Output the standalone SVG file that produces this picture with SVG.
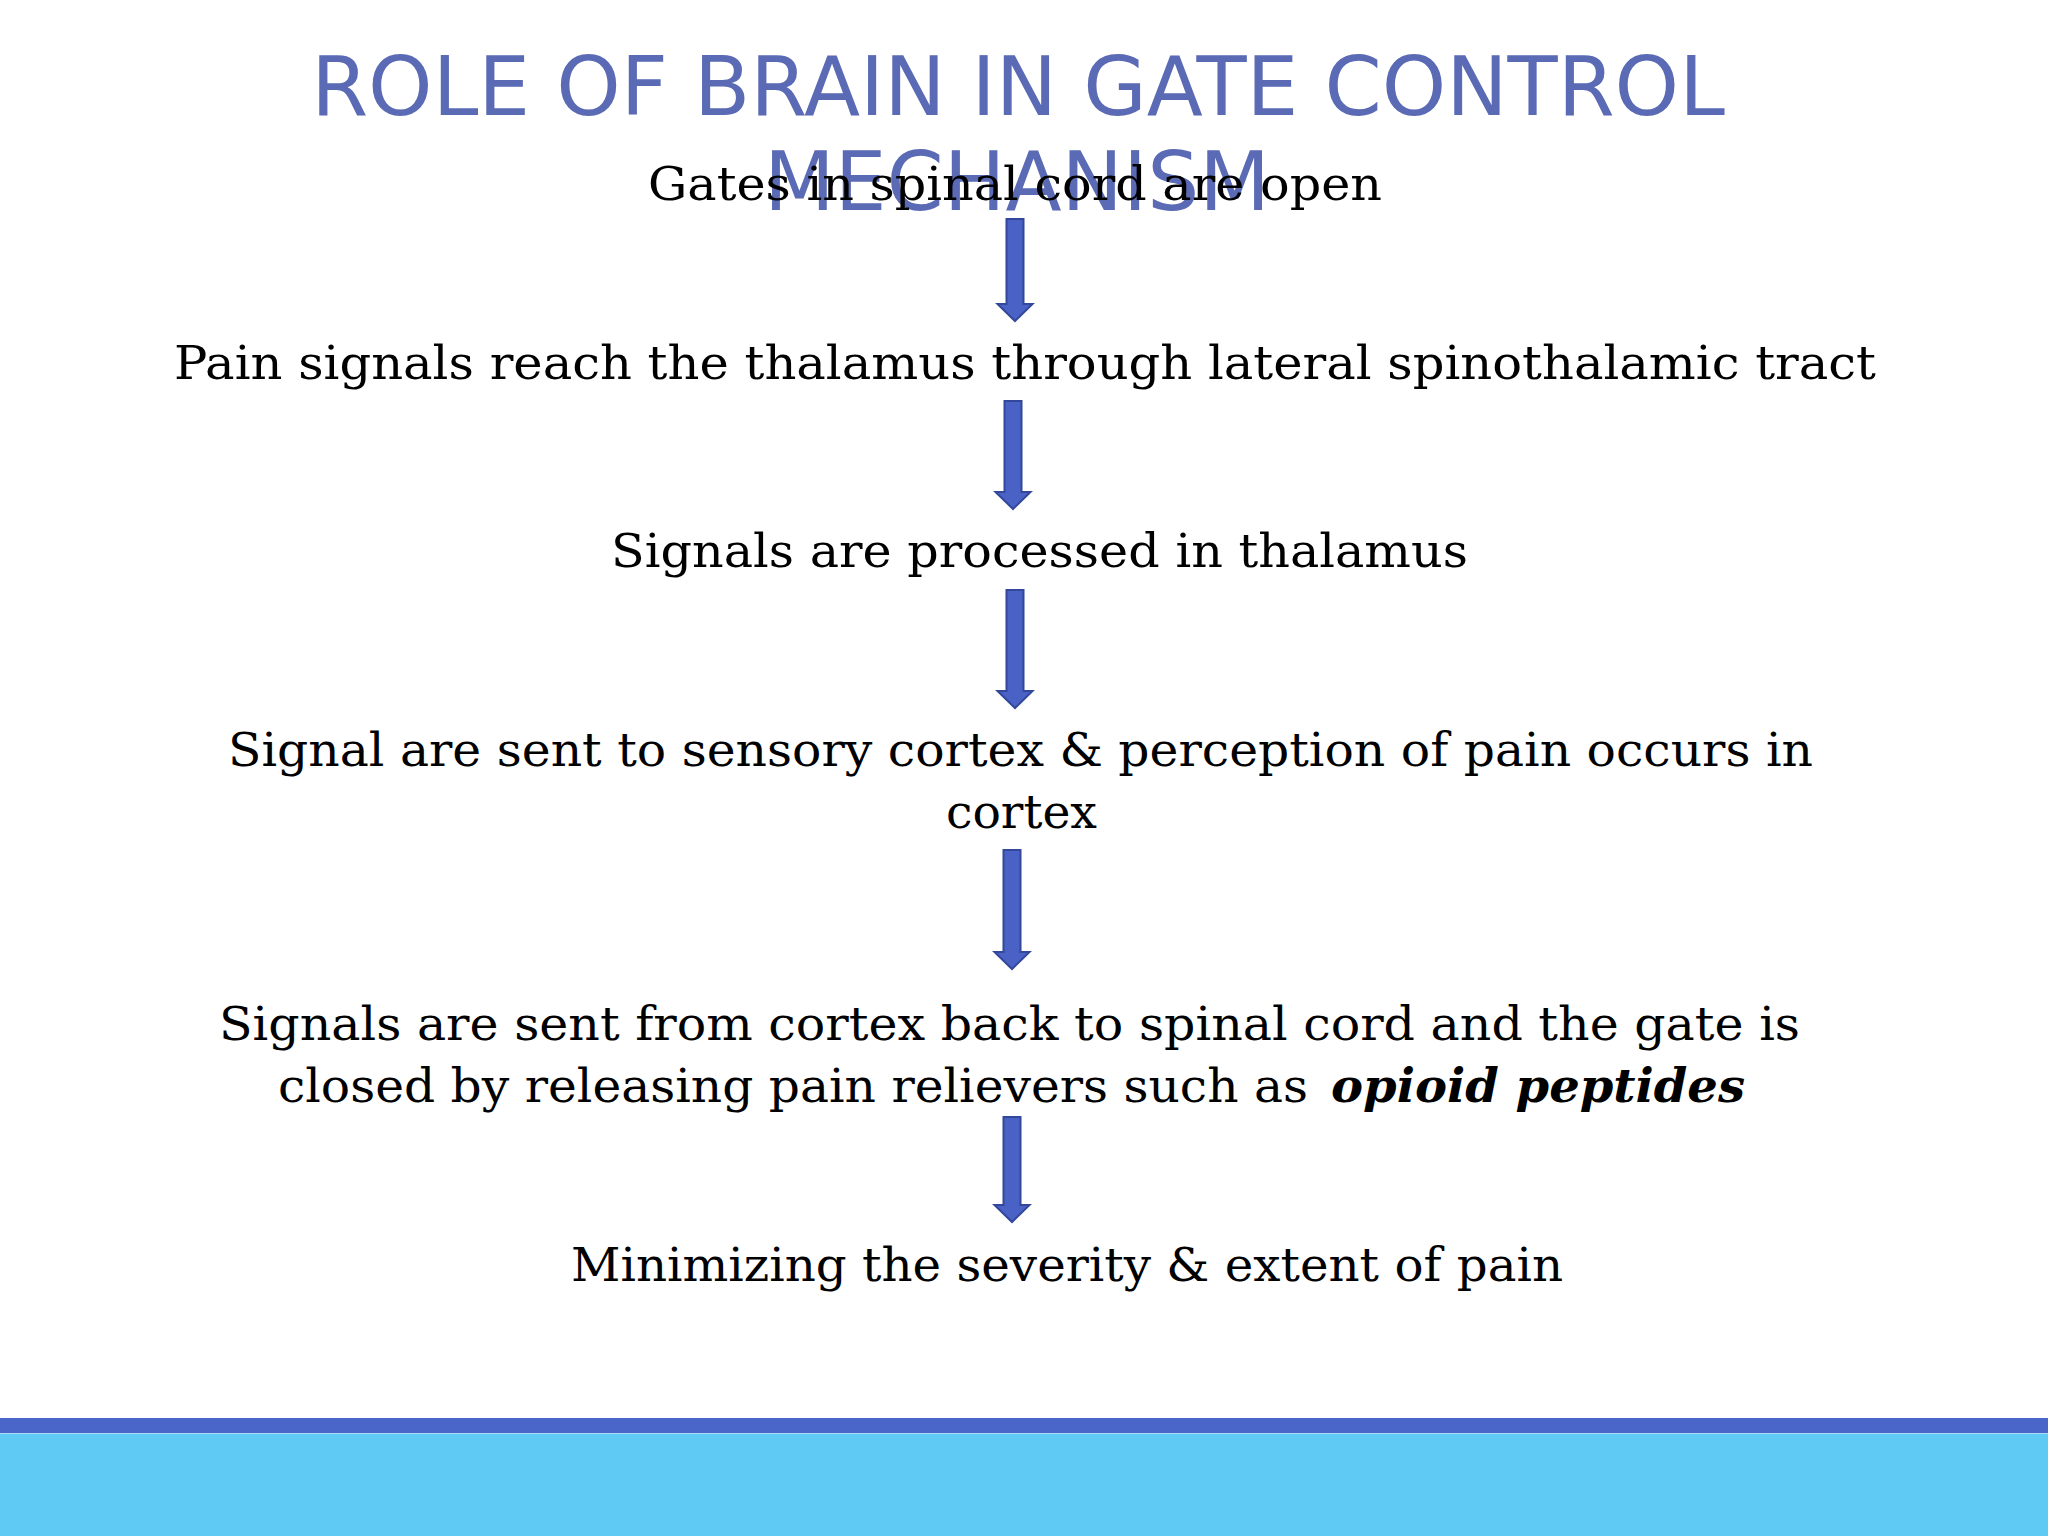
<svg xmlns="http://www.w3.org/2000/svg" width="2048" height="1536" viewBox="0 0 2048 1536">
  <style>
    .title { font-family: "DejaVu Sans", Verdana, sans-serif; font-size: 82px; fill: #5A6AB4; text-anchor: middle; }
    .body { font-family: "DejaVu Serif", "Liberation Serif", serif; font-size: 47px; fill: #000000; }
    .bi { font-weight: bold; font-style: italic; }
    .arrow { fill: #4A62C6; stroke: #33489A; stroke-width: 2; }
  </style>
  <rect x="0" y="0" width="2048" height="1536" fill="#FFFFFF"/>

  <g id="title">
    <text class="title" x="1018" y="115">ROLE OF BRAIN IN GATE CONTROL</text>
    <text class="title" x="1017" y="210">MECHANISM</text>
  </g>

  <g id="node1">
    <text class="body" x="648" y="200" textLength="734" lengthAdjust="spacingAndGlyphs">Gates in spinal cord are open</text>
  </g>
  <g id="node2">
    <text class="body" x="174" y="379" textLength="1702" lengthAdjust="spacingAndGlyphs">Pain signals reach the thalamus through lateral spinothalamic tract</text>
  </g>
  <g id="node3">
    <text class="body" x="611" y="567" textLength="857" lengthAdjust="spacingAndGlyphs">Signals are processed in thalamus</text>
  </g>
  <g id="node4">
    <text class="body" x="228" y="766" textLength="1585" lengthAdjust="spacingAndGlyphs">Signal are sent to sensory cortex &amp; perception of pain occurs in</text>
    <text class="body" x="946" y="828" textLength="151" lengthAdjust="spacingAndGlyphs">cortex</text>
  </g>
  <g id="node5">
    <text class="body" x="219" y="1040" textLength="1581" lengthAdjust="spacingAndGlyphs">Signals are sent from cortex back to spinal cord and the gate is</text>
    <text class="body" x="278" y="1102" textLength="1030" lengthAdjust="spacingAndGlyphs">closed by releasing pain relievers such as</text>
    <text class="body bi" x="1331" y="1102" textLength="414" lengthAdjust="spacingAndGlyphs">opioid peptides</text>
  </g>
  <g id="node6">
    <text class="body" x="571" y="1281" textLength="992" lengthAdjust="spacingAndGlyphs">Minimizing the severity &amp; extent of pain</text>
  </g>

  <g id="connectors">
    <path class="arrow" d="M 1006.5 219 L 1023.5 219 L 1023.5 304 L 1032.5 304 L 1015 321 L 997.5 304 L 1006.5 304 Z"/>
    <path class="arrow" d="M 1004.5 401 L 1021.5 401 L 1021.5 492 L 1030.5 492 L 1013 509 L 995.5 492 L 1004.5 492 Z"/>
    <path class="arrow" d="M 1006.5 590 L 1023.5 590 L 1023.5 691 L 1032.5 691 L 1015 708 L 997.5 691 L 1006.5 691 Z"/>
    <path class="arrow" d="M 1003.5 850 L 1020.5 850 L 1020.5 952 L 1029.5 952 L 1012 969 L 994.5 952 L 1003.5 952 Z"/>
    <path class="arrow" d="M 1003.5 1117 L 1020.5 1117 L 1020.5 1205 L 1029.5 1205 L 1012 1222 L 994.5 1205 L 1003.5 1205 Z"/>
  </g>

  <g id="footer">
    <rect x="0" y="1418" width="2048" height="15" fill="#4A66C8"/>
    <rect x="0" y="1433" width="2048" height="103" fill="#5FCBF4"/>
    <line x1="0" y1="1433.5" x2="2048" y2="1433.5" stroke="#A9DDF6" stroke-width="1"/>
  </g>
</svg>
